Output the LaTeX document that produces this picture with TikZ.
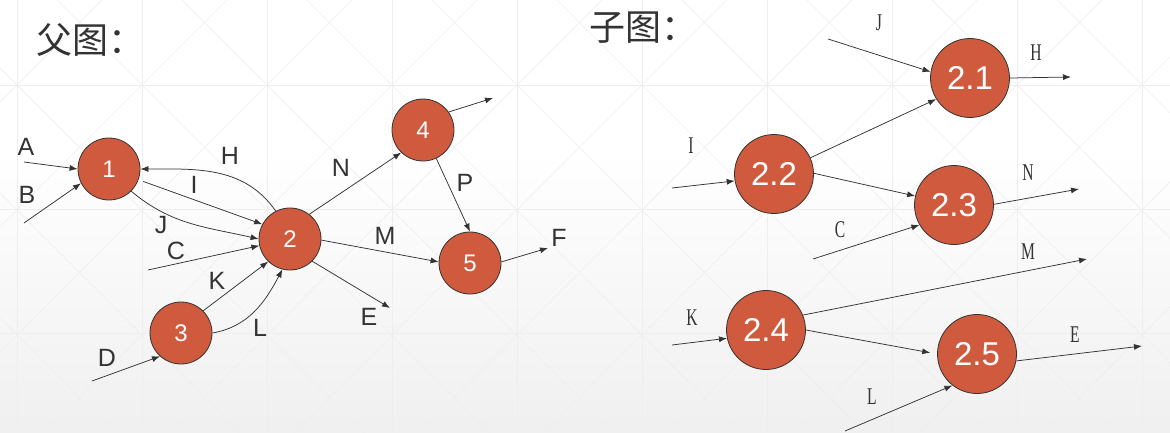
\documentclass[tikz,border=0pt]{standalone}
\usepackage{fontspec}
\setmainfont{Liberation Sans}
\newfontfamily\cjkfont{Noto Sans CJK SC}
\newfontfamily\subfont[FakeStretch=0.65]{Liberation Serif}
\usetikzlibrary{arrows.meta}
\definecolor{nodered}{RGB}{208,90,62}
\definecolor{edgegray}{RGB}{51,51,51}
\definecolor{gridgray}{RGB}{238,238,238}

\begin{document}
\begin{tikzpicture}[
    x=1pt, y=1pt,
    vertex/.style={circle, draw=edgegray, line width=0.8pt, fill=nodered, minimum size=62pt,
                   inner sep=0pt, text=white, font=\fontsize{24}{24}\selectfont},
    subvertex/.style={vertex, minimum size=79pt, font=\fontsize{33}{33}\selectfont},
    arr/.style={-{Latex[length=8pt,width=6pt]}, line width=0.75pt, edgegray},
    lbl/.style={inner sep=0pt, text=edgegray, font=\fontsize{25}{25}\selectfont},
    sublbl/.style={inner sep=0pt, text=edgegray, font=\subfont\fontsize{24}{24}\selectfont},
    title/.style={anchor=west, inner sep=0pt, text=edgegray, font=\cjkfont\fontsize{36}{36}\selectfont},
    bgline/.style={gridgray, line width=0.6pt},
]
    \useasboundingbox (0,0) rectangle (1170,432);
    \fill[white] (0,0) rectangle (1170,432);
    \shade[top color=white, bottom color=black!6] (0,0) rectangle (1170,280);
    \begin{scope}
        \clip (0,0) rectangle (1170,432);
        \foreach \gx in {17,142,...,1142} \draw[bgline] (\gx,0) -- (\gx,432);
        \foreach \gy in {99,223,347} \draw[bgline] (0,\gy) -- (1170,\gy);
        \foreach \gc in {-455,-330,...,1170} \draw[bgline] (\gc,0) -- ++(432,432);
        \foreach \gd in {114,239,...,1614} \draw[bgline] (\gd,0) -- ++(-432,432);
    \end{scope}

    \node[title] (ptitle) at (36,392) {父图：};
    \node[title] (stitle) at (589,404) {子图：};

    \node[vertex] (n1) at (109,263) {1};
    \node[vertex] (n2) at (290,193) {2};
    \node[vertex] (n3) at (181,99)  {3};
    \node[vertex] (n4) at (423,302) {4};
    \node[vertex] (n5) at (470,169) {5};

    \coordinate (inA)  at (24,270);
    \coordinate (inB)  at (24,209);
    \coordinate (inC)  at (148,162);
    \coordinate (inD)  at (92,51);
    \coordinate (outE) at (390,124);
    \coordinate (outF) at (548,184);
    \coordinate (out4) at (493,334);

    \draw[arr] (inA) -- (n1.180);
    \draw[arr] (inB) -- (n1.207);
    \draw[arr] (n2.117) to[out=125, in=0] (n1.east);
    \draw[arr, shorten <=5pt] (n1.-20) -- (n2.152);
    \draw[arr] (n1.-45) to[out=-40, in=167] (n2.180);
    \draw[arr] (inC) -- (n2);
    \draw[arr] (n3.45) -- (n2.226);
    \draw[arr] (n3.east) to[out=10, in=242] (n2.256);
    \draw[arr] (n2.52) -- (n4.226);
    \draw[arr] (n2.-2) -- (n5.178);
    \draw[arr] (n2.-45) -- (outE);
    \draw[arr] (n4.-65) -- (n5.north);
    \draw[arr] (n4.35) -- (out4);
    \draw[arr] (n5.2) -- (outF);
    \draw[arr] (inD) -- (n3.228);

    \node[lbl] (lA) at (26,285) {A};
    \node[lbl] (lB) at (27,237) {B};
    \node[lbl] (lH) at (230,276) {H};
    \node[lbl] (lI) at (194,247) {I};
    \node[lbl] (lJ) at (161,207) {J};
    \node[lbl] (lC) at (176,181) {C};
    \node[lbl] (lK) at (217,151) {K};
    \node[lbl] (lL) at (260,104) {L};
    \node[lbl] (lN) at (341,264) {N};
    \node[lbl] (lM) at (385,196) {M};
    \node[lbl] (lE) at (369,115) {E};
    \node[lbl] (lP) at (465,249) {P};
    \node[lbl] (lF) at (559,194) {F};
    \node[lbl] (lD) at (107,74)  {D};

    \node[subvertex] (m1) at (970,354) {2.1};
    \node[subvertex] (m2) at (774,258) {2.2};
    \node[subvertex] (m3) at (954,227) {2.3};
    \node[subvertex] (m4) at (766,102) {2.4};
    \node[subvertex] (m5) at (977,78)  {2.5};

    \coordinate (inJ)   at (828,393);
    \coordinate (inI)   at (672,244);
    \coordinate (inC2)  at (813,173);
    \coordinate (inK)   at (672,87);
    \coordinate (inL)   at (845,1);
    \coordinate (outH)  at (1071,355);
    \coordinate (outN)  at (1079,243);
    \coordinate (outM)  at (1087,173);
    \coordinate (outE2) at (1142,86);

    \draw[arr] (inJ) -- (m1.171);
    \draw[arr] (m2.24) -- (m1.212);
    \draw[arr] (m1.east) -- (outH);
    \draw[arr] (inI) -- (m2.190);
    \draw[arr] (m2.1) -- (m3.167);
    \draw[arr] (m3.1) -- (outN);
    \draw[arr] (inC2) -- (m3.210);
    \draw[arr] (m4.22) -- (outM);
    \draw[arr] (inK) -- (m4.192);
    \draw[arr, shorten >=7pt] (m4.0) -- (m5.180);
    \draw[arr] (m5.-10) -- (outE2);
    \draw[arr] (inL) -- (m5.232);

    \node[sublbl] (sJ) at (879,409) {J};
    \node[sublbl] (sH) at (1036,379) {H};
    \node[sublbl] (sI) at (691,286) {I};
    \node[sublbl] (sN) at (1028,259) {N};
    \node[sublbl] (sC) at (840,202) {C};
    \node[sublbl] (sM) at (1028,180) {M};
    \node[sublbl] (sK) at (692,114) {K};
    \node[sublbl] (sE) at (1075,97) {E};
    \node[sublbl] (sL) at (872,35) {L};
\end{tikzpicture}
\end{document}
